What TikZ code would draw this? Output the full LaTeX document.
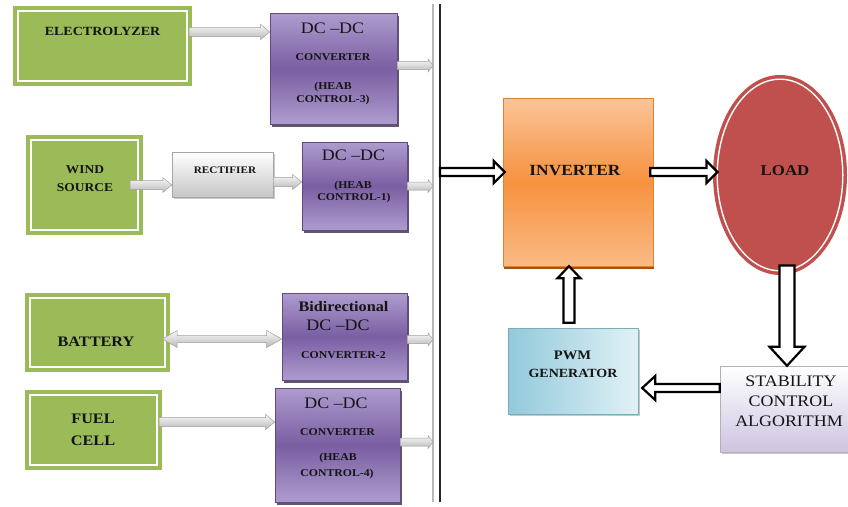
\documentclass[tikz,border=0pt]{standalone}
\usepackage{fontspec}
\setmainfont{Liberation Serif}
\newfontfamily\wfont[FakeStretch=1.12]{Liberation Serif}
\usetikzlibrary{calc,shadows,shapes.geometric}
\definecolor{grn}{RGB}{155,187,89}
\definecolor{purL}{RGB}{174,156,206}
\definecolor{purD}{RGB}{122,94,162}
\definecolor{purB}{RGB}{96,74,126}
\definecolor{orL}{RGB}{251,196,152}
\definecolor{orD}{RGB}{246,146,62}
\definecolor{orB}{RGB}{165,82,22}
\definecolor{loadred}{RGB}{192,80,77}
\definecolor{pwmD}{RGB}{145,202,218}
\definecolor{pwmL}{RGB}{225,241,246}
\definecolor{stabB}{RGB}{205,196,225}
\definecolor{txt}{RGB}{20,20,20}
\newcommand\myfb[1]{\wfont\bfseries\fontsize{#1}{#1}\selectfont}
\newcommand\myfr[1]{\wfont\fontsize{#1}{#1}\selectfont}
\begin{document}
\begin{tikzpicture}[x=1pt,y=-1pt,
 blockpath/.style args={#1/#2/#3}{to path={let \p1=(\tikztostart),\p2=(\tikztotarget),\n1={atan2(\y2-\y1,\x2-\x1)},\n2={veclen(\x2-\x1,\y2-\y1)-#3pt},\n3={#2pt-#1pt} in ($(\p1)+(\n1+90:#1pt)$) -- ++(\n1:\n2) -- ++(\n1+90:\n3) -- (\p2) -- ($(\p2)+(\n1+180:#3pt)+(\n1-90:#2pt)$) -- ++(\n1+90:\n3) -- ++(\n1+180:\n2) -- cycle}},
 dblpath/.style args={#1/#2/#3}{to path={let \p1=(\tikztostart),\p2=(\tikztotarget),\n1={atan2(\y2-\y1,\x2-\x1)},\n2={veclen(\x2-\x1,\y2-\y1)-2*#3pt},\n3={#2pt-#1pt} in (\p1) -- ($(\p1)+(\n1:#3pt)+(\n1+90:#2pt)$) -- ++(\n1-90:\n3) -- ++(\n1:\n2) -- ++(\n1+90:\n3) -- (\p2) -- ($(\p2)+(\n1+180:#3pt)+(\n1-90:#2pt)$) -- ++(\n1+90:\n3) -- ++(\n1+180:\n2) -- ++(\n1-90:\n3) -- cycle}},
 garrow/.style={blockpath=#1, draw=gray!75, line width=0.5pt, top color=gray!5, bottom color=gray!55},
 gdarrow/.style={dblpath=#1, draw=gray!75, line width=0.5pt, top color=gray!5, bottom color=gray!55},
 barrow/.style={blockpath=#1, draw=black, line width=2.2pt, fill=white, line join=miter},
 greenbox/.style={rectangle, inner sep=0pt, fill=grn, draw=grn, double=white, double distance=1.6pt, line width=4pt},
 purbox/.style={rectangle, inner sep=0pt, draw=purB, line width=0.6pt, top color=purL, bottom color=purL, middle color=purD, drop shadow={shadow xshift=2pt, shadow yshift=-2.5pt, fill=purB!60!black, opacity=0.8}},
 tb/.style={inner sep=0pt, text height=0.66em, text depth=0pt, text=txt}
]
\useasboundingbox (0,0) rectangle (848,506);
\fill[white] (0,0) rectangle (848,506);

% bus
\coordinate (gtop) at (433,4); \coordinate (gbot) at (433,502);
\coordinate (ktop) at (440,4); \coordinate (kbot) at (440,502);
\draw[gray!55, line width=1.6pt] (gtop) -- (gbot);
\draw[black!85, line width=1.4pt] (ktop) -- (kbot);

% green sources
\node[greenbox, minimum width=169.4pt, minimum height=70.4pt] (elec) at (102.5,46) {};
\node[greenbox, minimum width=107.4pt, minimum height=90.4pt] (wind) at (84.5,185) {};
\node[greenbox, minimum width=135.4pt, minimum height=69.4pt] (batt) at (97.5,332.5) {};
\node[greenbox, minimum width=127.4pt, minimum height=70.4pt] (fuel) at (93.5,430) {};

% converters
\node[purbox, minimum width=127pt, minimum height=111pt] (dc3) at (333.5,68.5) {};
\node[purbox, minimum width=105pt, minimum height=88pt] (dc1) at (354.5,186) {};
\node[purbox, minimum width=125pt, minimum height=87pt] (dc2) at (344.5,336.5) {};
\node[purbox, minimum width=125pt, minimum height=114pt] (dc4) at (337.5,445) {};
\node[rectangle, inner sep=0pt, draw=gray!70, line width=0.5pt, top color=white, bottom color=gray!45, minimum width=101pt, minimum height=45pt, drop shadow={shadow xshift=1.5pt, shadow yshift=-1.5pt, fill=gray!60, opacity=0.7}] (rect) at (222.5,174.5) {};

% right side
\node[rectangle, inner sep=0pt, draw=orD!90!black, line width=0.4pt, top color=orL, bottom color=orL!80!orD, middle color=orD, minimum width=150pt, minimum height=168pt, drop shadow={shadow xshift=1pt, shadow yshift=-2.5pt, fill=orB, opacity=1}] (inv) at (578,182) {};
\node[ellipse, inner sep=0pt, fill=loadred, draw=loadred, double=white, double distance=1.4pt, line width=3.5pt, minimum width=125.6pt, minimum height=191.6pt] (load) at (780,175) {};
\node[rectangle, inner sep=0pt, draw=pwmD!85!black, line width=0.4pt, left color=pwmD, right color=pwmL, minimum width=130pt, minimum height=86pt, drop shadow={shadow xshift=1.5pt, shadow yshift=-1.5pt, fill=gray!60, opacity=0.7}] (pwm) at (573,371) {};
\node[rectangle, inner sep=0pt, draw=gray!60, line width=0.5pt, top color=white, bottom color=stabB, minimum width=130pt, minimum height=86pt, drop shadow={shadow xshift=1.5pt, shadow yshift=-2pt, fill=gray!60, opacity=0.7}] (stab) at (785,409) {};

% texts
\node[tb, font=\myfb{12.5}] (t_elec) at (102.5,32) {ELECTROLYZER};
\node[tb, font=\myfb{12}] (t_wind1) at (85,170) {WIND};
\node[tb, font=\myfb{12}] (t_wind2) at (85,188) {SOURCE};
\node[tb, font=\myfb{14.5}] (t_batt) at (96,343) {BATTERY};
\node[tb, font=\myfb{14.5}] (t_fuel1) at (93,420) {FUEL};
\node[tb, font=\myfb{14.5}] (t_fuel2) at (93,442) {CELL};

\node[tb, font=\myfr{16}] (t3a) at (332.5,30) {DC –DC};
\node[tb, font=\myfb{10.5}] (t3b) at (333,57) {CONVERTER};
\node[tb, font=\myfb{10.5}] (t3c) at (333,86) {(HEAB};
\node[tb, font=\myfb{10.5}] (t3d) at (333,99) {CONTROL-3)};

\node[tb, font=\myfb{10}] (t_rect) at (225,170) {RECTIFIER};

\node[tb, font=\myfr{16}] (t1a) at (353.5,157) {DC –DC};
\node[tb, font=\myfb{10.5}] (t1c) at (353,185) {(HEAB};
\node[tb, font=\myfb{10.5}] (t1d) at (354,197) {CONTROL-1)};

\node[tb, font=\myfb{14.5}] (t2a) at (343.5,308) {Bidirectional};
\node[tb, font=\myfr{16}] (t2b) at (338,327) {DC –DC};
\node[tb, font=\myfb{10.5}] (t2c) at (343.5,355) {CONVERTER-2};

\node[tb, font=\myfr{16}] (t4a) at (336,405) {DC –DC};
\node[tb, font=\myfb{10.5}] (t4b) at (337.5,432) {CONVERTER};
\node[tb, font=\myfb{10.5}] (t4c) at (338,457) {(HEAB};
\node[tb, font=\myfb{10.5}] (t4d) at (337,473) {CONTROL-4)};

\node[tb, font=\myfb{15.5}] (t_inv) at (575,172) {INVERTER};
\node[tb, font=\myfb{15}] (t_load) at (785,172) {LOAD};
\node[tb, font=\myfb{13}] (t_pwm1) at (572.5,356) {PWM};
\node[tb, font=\myfb{12.5}] (t_pwm2) at (573,374) {GENERATOR};
\node[tb, font=\myfr{16}] (t_st1) at (791,383) {STABILITY};
\node[tb, font=\myfr{16}] (t_st2) at (791,403) {CONTROL};
\node[tb, font=\myfr{16}] (t_st3) at (789,423) {ALGORITHM};

% grey arrows (left side)
\draw[garrow=4.5/7.5/9] (elec.east |- t_elec) to (dc3.west |- t_elec);
\draw[garrow=4.5/7.5/9] ($(wind.east)+(-10,0)$) to (rect.west |- wind.east);
\draw[garrow=4.5/7.5/9] ($(rect.east |- dc1.west)+(0,-4)$) to ($(dc1.west)+(0,-4)$);
\draw[gdarrow=3.5/8.5/15] ($(batt.east |- dc2.west)+(-5,2.5)$) to ($(dc2.west)+(0,2.5)$);
\draw[garrow=4.5/7.5/9] ($(fuel.east)+(0,-8)$) to ($(dc4.west |- fuel.east)+(0,-8)$);

% grey arrows to bus
\draw[garrow=4/6.5/5] ($(dc3.east)+(0,-3)$) to ($(dc3.east -| gtop)+(0,-3)$);
\draw[garrow=4/6.5/5] (dc1.east) to (dc1.east -| gtop);
\draw[garrow=4/6.5/5] ($(dc2.east)+(0,3)$) to ($(dc2.east -| gtop)+(0,3)$);
\draw[garrow=4/6.5/5] ($(dc4.east)+(0,-3)$) to ($(dc4.east -| gtop)+(0,-3)$);

% black hollow arrows
\draw[barrow=4/11/11] (ktop |- t_inv) to ($(inv.west |- t_inv)+(2,0)$);
\draw[barrow=4/11/11] ($(inv.east |- t_inv)+(-3,0)$) to ($(load.west |- t_inv)+(2,0)$);
\draw[barrow=5.5/11.5/12] ($(pwm.north)+(-4,-5)$) to ($(inv.south -| pwm.north)+(-4,0)$);
\draw[barrow=7.5/17.5/19] ($(stab.north |- load.south)+(2,-7)$) to ($(stab.north)+(2,0)$);
\draw[barrow=4/12/13] ($(stab.west)+(0,-21)$) to ($(pwm.east |- stab.west)+(4,-21)$);
\end{tikzpicture}
\end{document}
